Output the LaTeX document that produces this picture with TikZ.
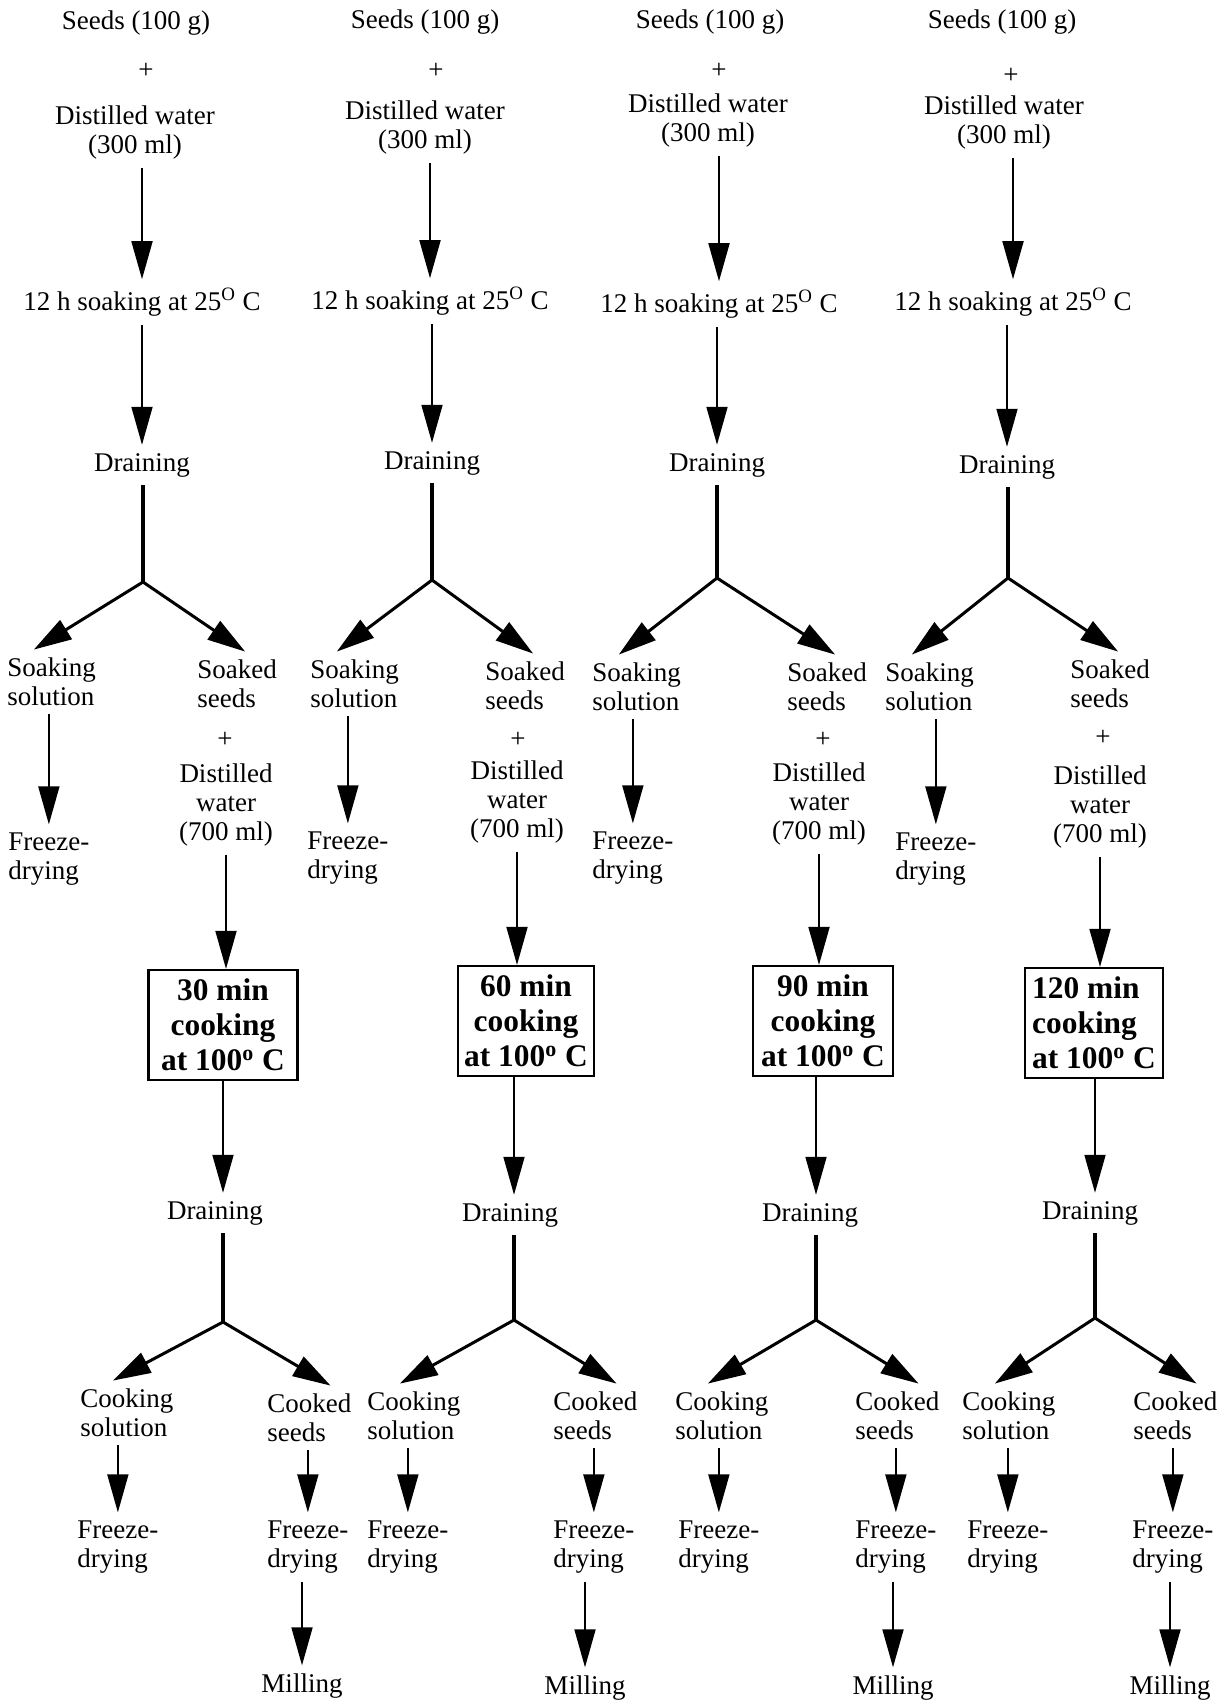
\documentclass[tikz,border=0pt]{standalone}
\usepackage{fontspec}
\setmainfont{Liberation Serif}
\usetikzlibrary{arrows.meta,calc}

\tikzset{
  txt/.style={font=\fontsize{13.5}{14.5}\selectfont, align=center, inner sep=4pt},
  lft/.style={txt, align=left, anchor=west, inner xsep=0pt},
  cookbox/.style={draw, line width=1.1pt, font=\fontsize{15.7}{17.5}\selectfont\bfseries,
    align=center, inner sep=3pt, minimum height=55pt},
  arr/.style={line width=0.9pt, -{Triangle[length=19pt,width=10.5pt]}},
  stem/.style={line width=1.6pt},
  brarr/.style={line width=1.5pt, -{Triangle[length=19pt,width=11pt]}}
}

\begin{document}
\begin{tikzpicture}[x=0.5pt, y=-0.5pt]
  \useasboundingbox (0,0) rectangle (1228,1708);

  % 30 min
  \node[txt] (seeds1) at (136,23) {Seeds (100 g)};
  \node[txt] (plus1) at (146,71) {+};
  \node[txt] (water1) at (135,133) {Distilled water\\(300 ml)};
  \node[txt] (soak1) at (142,302) {12 h soaking at 25\textsuperscript{O} C};
  \node[txt] (drain1) at (142,465) {Draining};
  \coordinate (fork1) at (143,582);
  \node[lft] (soln1) at (7,682) {Soaking\\solution};
  \node[lft] (fd1) at (8,859) {Freeze-\\drying};
  \node[lft] (sseeds1) at (197,684) {Soaked\\seeds};
  \node[txt] (plusb1) at (225,740) {+};
  \node[txt] (waterb1) at (226,805) {Distilled\\water\\(700 ml)};
  \node[cookbox, minimum width=74.5pt] (cook1) at (223,1025) {30 min\\cooking\\at 100\textsuperscript{o} C};
  \node[txt] (drainb1) at (215,1213) {Draining};
  \coordinate (forkb1) at (223,1322);
  \node[lft] (csol1) at (80,1413) {Cooking\\solution};
  \node[lft] (cseeds1) at (267,1418) {Cooked\\seeds};
  \node[lft] (cfd1) at (77,1547) {Freeze-\\drying};
  \node[lft] (sfd1) at (267,1547) {Freeze-\\drying};
  \node[txt] (mill1) at (302,1686) {Milling};

  % 60 min
  \node[txt] (seeds2) at (425,22) {Seeds (100 g)};
  \node[txt] (plus2) at (436,71) {+};
  \node[txt] (water2) at (425,128) {Distilled water\\(300 ml)};
  \node[txt] (soak2) at (430,301) {12 h soaking at 25\textsuperscript{O} C};
  \node[txt] (drain2) at (432,463) {Draining};
  \coordinate (fork2) at (432,580);
  \node[lft] (soln2) at (310,684) {Soaking\\solution};
  \node[lft] (fd2) at (307,858) {Freeze-\\drying};
  \node[lft] (sseeds2) at (485,686) {Soaked\\seeds};
  \node[txt] (plusb2) at (518,740) {+};
  \node[txt] (waterb2) at (517,802) {Distilled\\water\\(700 ml)};
  \node[cookbox, minimum width=68pt] (cook2) at (526,1021) {60 min\\cooking\\at 100\textsuperscript{o} C};
  \node[txt] (drainb2) at (510,1215) {Draining};
  \coordinate (forkb2) at (514,1320);
  \node[lft] (csol2) at (367,1416) {Cooking\\solution};
  \node[lft] (cseeds2) at (553,1416) {Cooked\\seeds};
  \node[lft] (cfd2) at (367,1547) {Freeze-\\drying};
  \node[lft] (sfd2) at (553,1547) {Freeze-\\drying};
  \node[txt] (mill2) at (585,1688) {Milling};

  % 90 min
  \node[txt] (seeds3) at (710,22) {Seeds (100 g)};
  \node[txt] (plus3) at (719,71) {+};
  \node[txt] (water3) at (708,121) {Distilled water\\(300 ml)};
  \node[txt] (soak3) at (719,304) {12 h soaking at 25\textsuperscript{O} C};
  \node[txt] (drain3) at (717,465) {Draining};
  \coordinate (fork3) at (717,578);
  \node[lft] (soln3) at (592,687) {Soaking\\solution};
  \node[lft] (fd3) at (592,858) {Freeze-\\drying};
  \node[lft] (sseeds3) at (787,687) {Soaked\\seeds};
  \node[txt] (plusb3) at (823,740) {+};
  \node[txt] (waterb3) at (819,804) {Distilled\\water\\(700 ml)};
  \node[cookbox, minimum width=70pt] (cook3) at (823,1021) {90 min\\cooking\\at 100\textsuperscript{o} C};
  \node[txt] (drainb3) at (810,1215) {Draining};
  \coordinate (forkb3) at (816,1320);
  \node[lft] (csol3) at (675,1416) {Cooking\\solution};
  \node[lft] (cseeds3) at (855,1416) {Cooked\\seeds};
  \node[lft] (cfd3) at (678,1547) {Freeze-\\drying};
  \node[lft] (sfd3) at (855,1547) {Freeze-\\drying};
  \node[txt] (mill3) at (893,1688) {Milling};

  % 120 min
  \node[txt] (seeds4) at (1002,22) {Seeds (100 g)};
  \node[txt] (plus4) at (1011,76) {+};
  \node[txt] (water4) at (1004,123) {Distilled water\\(300 ml)};
  \node[txt] (soak4) at (1013,302) {12 h soaking at 25\textsuperscript{O} C};
  \node[txt] (drain4) at (1007,467) {Draining};
  \coordinate (fork4) at (1008,578);
  \node[lft] (soln4) at (885,687) {Soaking\\solution};
  \node[lft] (fd4) at (895,859) {Freeze-\\drying};
  \node[lft] (sseeds4) at (1070,684) {Soaked\\seeds};
  \node[txt] (plusb4) at (1103,738) {+};
  \node[txt] (waterb4) at (1100,807) {Distilled\\water\\(700 ml)};
  \node[cookbox, minimum width=69pt, align=left] (cook4) at (1094,1023) {120 min\\cooking\\at 100\textsuperscript{o} C};
  \node[txt] (drainb4) at (1090,1213) {Draining};
  \coordinate (forkb4) at (1095,1318);
  \node[lft] (csol4) at (962,1416) {Cooking\\solution};
  \node[lft] (cseeds4) at (1133,1416) {Cooked\\seeds};
  \node[lft] (cfd4) at (967,1547) {Freeze-\\drying};
  \node[lft] (sfd4) at (1132,1547) {Freeze-\\drying};
  \node[txt] (mill4) at (1170,1688) {Milling};

  \foreach \i in {1,...,4} {
    \draw[arr] (soak\i |- water\i.south) -- (soak\i);
    \draw[arr] (drain\i |- soak\i.south) -- (drain\i);
    \draw[stem] (fork\i |- drain\i.south) -- (fork\i);
    \draw[brarr] (fork\i) -- ($(soln\i.north west)!0.3!(soln\i.north east)$);
    \draw[brarr] (fork\i) -- ($(sseeds\i.north west)!0.6!(sseeds\i.north east)$);
    \draw[arr] (fd\i |- soln\i.south) -- (fd\i);
    \draw[arr] (waterb\i) -- (waterb\i |- cook\i.north);
    \draw[arr] (forkb\i |- cook\i.south) -- (forkb\i |- drainb\i.north);
    \draw[stem] (forkb\i |- drainb\i.south) -- (forkb\i);
    \draw[brarr] (forkb\i) -- ($(csol\i.north west)!0.35!(csol\i.north east)$);
    \draw[brarr] (forkb\i) -- ($(cseeds\i.north west)!0.75!(cseeds\i.north east)$);
    \draw[arr] (cfd\i |- csol\i.south) -- (cfd\i);
    \draw[arr] (sfd\i |- cseeds\i.south) -- (sfd\i);
    \draw[arr] (mill\i |- sfd\i.south) -- (mill\i);
  }
\end{tikzpicture}
\end{document}
